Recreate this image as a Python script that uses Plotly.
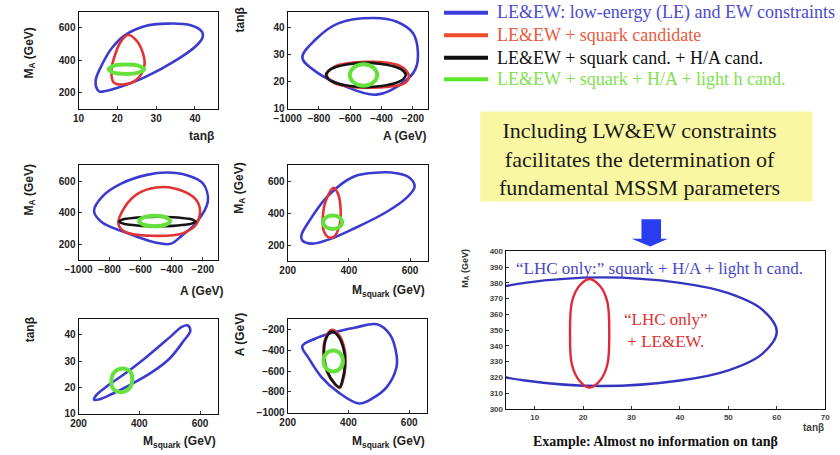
import plotly.graph_objects as go

W, H = 840, 455

# ---------------- data (contours) ----------------
# Panel 1: tanβ (x) vs M_A (y)
p1_blue_x = [15.5, 18.6, 27, 35.5, 40.6, 42, 41.8, 38.9, 33, 27, 22, 18.6, 16.1, 14.4, 14.8, 15.5]
p1_blue_y = [205, 219, 294, 405, 496, 545, 577, 617, 627, 611, 556, 476, 375, 274, 219, 205]
p1_red_x = [22.8, 25, 26.5, 27, 25, 21.5, 19, 18.5, 19.5, 21, 22.8]
p1_red_y = [556, 520, 450, 370, 280, 250, 265, 340, 440, 520, 556]
p1_green_x = [17.8, 19, 22.2, 25.5, 26.9, 25.5, 22.2, 19, 17.8]
p1_green_y = [344, 365, 373, 365, 344, 323, 315, 323, 344]

# Panel 2: A (x) vs tanβ (y)
p2_blue_x = [-906, -823, -677, -448, -302, -198, -167, -183, -246, -433, -646, -813, -906]
p2_blue_y = [29, 35.6, 41.7, 43.7, 42.3, 38, 30.7, 24.7, 20.4, 15.2, 18.6, 23.5, 29]
p2_red_x = [-750, -700, -600, -500, -400, -300, -240, -225, -260, -350, -500, -600, -700, -750]
p2_red_y = [22.5, 25.6, 27, 27.4, 27.3, 26.3, 24, 21.5, 19.2, 18.2, 17.8, 18.2, 19.5, 22.5]
p2_black_x = [-755, -740, -700, -600, -500, -400, -300, -260, -245, -260, -300, -400, -500, -600, -700, -740, -755]
p2_black_y = [22.5, 24, 25.3, 26.6, 27, 26.6, 25.3, 24, 22.5, 21, 19.7, 18.4, 18, 18.4, 19.7, 21, 22.5]
p2_green_x = [-603, -577, -515, -453, -427, -453, -515, -577, -603]
p2_green_y = [22.5, 25.3, 26.5, 25.3, 22.5, 19.7, 18.5, 19.7, 22.5]

# Panel 3: A (x) vs M_A (y)
p3_blue_x = [-900, -847, -722, -560, -428, -303, -199, -167, -240, -330, -407, -513, -701, -847, -900]
p3_blue_y = [410, 503, 586, 640, 655, 638, 586, 472, 339, 260, 204, 214, 277, 339, 410]
p3_red_x = [-743, -700, -620, -500, -387, -260, -219, -240, -330, -533, -700, -743]
p3_red_y = [330, 440, 520, 560, 556, 500, 431, 330, 270, 255, 280, 330]
p3_black_x = [-738, -722, -692, -592, -492, -392, -292, -262, -246, -262, -292, -392, -492, -592, -692, -722, -738]
p3_black_y = [345, 355.6, 362.5, 372.4, 375, 372.4, 362.5, 355.6, 345, 334.4, 327.5, 317.6, 315, 317.6, 327.5, 334.4, 345]
p3_green_x = [-610, -581, -510, -439, -410, -439, -510, -581, -610]
p3_green_y = [348, 371, 381, 371, 348, 325, 315, 325, 348]

# Panel 4: M_squark (x) vs M_A (y)
p4_blue_x = [247, 280, 340, 415, 520, 590, 615, 594, 540, 499, 415, 331, 268, 245, 247]
p4_blue_y = [232, 210, 240, 303, 405, 500, 568, 629, 655, 655, 629, 507, 344, 263, 232]
p4_red_x = [350, 365, 373, 370, 352, 335, 318, 315, 325, 350]
p4_red_y = [560, 520, 430, 330, 255, 248, 290, 380, 480, 560]
p4_green_x = [316, 325, 347, 369, 378, 369, 347, 325, 316]
p4_green_y = [344, 374, 386, 374, 344, 314, 302, 314, 344]

# Panel 5: M_squark (x) vs tanβ (y)
p5_blue_x = [251, 270, 310, 370, 438, 500, 545, 568, 560, 540, 500, 416, 350, 300, 258, 251]
p5_blue_y = [15.3, 15.5, 17.5, 21, 25.5, 31, 37.5, 41.5, 43.5, 43, 39, 30.8, 25, 21, 17, 15.3]
p5_green_x = [308, 318, 345, 370, 377, 367, 340, 314, 308]
p5_green_y = [22, 25.8, 27.2, 26, 23.2, 19.6, 18.2, 19.5, 22]

# Panel 6: M_squark (x) vs A (y)
p6_blue_x = [248, 290, 344, 420, 494, 537, 558, 558, 526, 480, 435, 366, 312, 270, 248]
p6_blue_y = [-361, -290, -236, -185, -151, -251, -440, -566, -754, -860, -911, -802, -660, -480, -361]
p6_red_x = [345, 368, 388, 390, 382, 372, 355, 328, 318, 323, 345]
p6_red_y = [-205, -250, -400, -550, -690, -760, -725, -600, -450, -300, -205]
p6_black_x = [344, 365, 385, 388, 380, 371, 355, 330, 320, 325, 344]
p6_black_y = [-220, -260, -400, -550, -690, -754, -720, -600, -450, -300, -220]
p6_green_x = [318, 327, 350, 373, 382, 373, 350, 327, 318]
p6_green_y = [-503, -432, -403, -432, -503, -574, -603, -574, -503]

# Panel 7: tanβ (x) vs M_A (y), LHC only vs LHC + LE&EW
p7_blue_x = [60, 57, 50, 40, 24, 8, -2, -9, -12, -9, -2, 8, 24, 40, 50, 57, 60]
p7_blue_y = [349, 363, 373.5, 380, 383.5, 380, 373.5, 363, 349, 335, 324.5, 318, 314.5, 318, 324.5, 335, 349]
p7_red_x = [21.3, 23.5, 25, 25.4, 25, 23.5, 21.3, 19.2, 17.7, 17.3, 17.7, 19.2, 21.3]
p7_red_y = [382.5, 378, 368, 348, 328, 318, 313.5, 318, 328, 348, 368, 378, 382.5]

# tick values
tk_tanb = [10, 20, 30, 40]
tk_ma = [200, 400, 600]
tk_a = [-1000, -800, -600, -400, -200]
tk_msq = [200, 400, 600]
tk_p7x = [10, 20, 30, 40, 50, 60, 70]
tk_p7y = [300, 310, 320, 330, 340, 350, 360, 370, 380, 390, 400]

legend_texts = [
    "LE&EW: low-energy (LE) and EW constraints",
    "LE&EW + squark candidate",
    "LE&EW + squark cand. + H/A cand.",
    "LE&EW + squark + H/A + light h cand.",
]

# ---------------- style ----------------
BLUE = "#3b3bd0"
RED = "#e23434"
BLACK = "#151515"
GREEN = "#66e03c"

fig = go.Figure()


def add(xs, ys, color, axis, width=2.6):
    fig.add_trace(go.Scatter(
        x=xs, y=ys, mode="lines", line=dict(color=color, width=width, shape="spline", smoothing=1.0),
        xaxis="x" + axis, yaxis="y" + axis, showlegend=False, hoverinfo="skip"))


add(p1_blue_x, p1_blue_y, BLUE, "")
add(p1_red_x, p1_red_y, RED, "")
add(p1_green_x, p1_green_y, GREEN, "", 4)

add(p2_blue_x, p2_blue_y, BLUE, "2")
add(p2_red_x, p2_red_y, RED, "2")
add(p2_black_x, p2_black_y, BLACK, "2")
add(p2_green_x, p2_green_y, GREEN, "2", 4)

add(p3_blue_x, p3_blue_y, BLUE, "3")
add(p3_red_x, p3_red_y, RED, "3")
add(p3_black_x, p3_black_y, BLACK, "3")
add(p3_green_x, p3_green_y, GREEN, "3", 4)

add(p4_blue_x, p4_blue_y, BLUE, "4")
add(p4_red_x, p4_red_y, RED, "4")
add(p4_green_x, p4_green_y, GREEN, "4", 4)

add(p5_blue_x, p5_blue_y, BLUE, "5")
add(p5_green_x, p5_green_y, GREEN, "5", 4)

add(p6_blue_x, p6_blue_y, BLUE, "6")
add(p6_red_x, p6_red_y, RED, "6")
add(p6_black_x, p6_black_y, BLACK, "6")
add(p6_green_x, p6_green_y, GREEN, "6", 4)

add(p7_blue_x, p7_blue_y, "#3434c0", "7", 2.4)
add(p7_red_x, p7_red_y, "#e02a3a", "7", 2.4)


def dx(a, b):
    return [a / W, b / W]


def dy(top, bottom):
    return [1 - bottom / H, 1 - top / H]


def ax(domain, rng, tickvals, anchor, small=False):
    return dict(domain=domain, range=rng, tickvals=tickvals, anchor=anchor,
                showline=True, mirror=True, linecolor="#111", linewidth=1,
                ticks="inside", ticklen=3, tickcolor="#333",
                showgrid=False, zeroline=False, fixedrange=True,
                tickfont=dict(family="Liberation Sans", size=8 if small else 10,
                              color="#444" if small else "#222", weight="bold"))


layout = dict(
    width=W, height=H, autosize=False,
    margin=dict(l=0, r=0, t=0, b=0),
    paper_bgcolor="white", plot_bgcolor="white",
    xaxis=ax(dx(66, 209), [10, 46], tk_tanb, "y"),
    yaxis=ax(dy(8, 107), [100, 700], tk_ma, "x"),
    xaxis2=ax(dx(280, 424), [-1000, -100], tk_a, "y2"),
    yaxis2=ax(dy(8, 107), [10, 46], tk_tanb, "x2"),
    xaxis3=ax(dx(66, 209), [-1000, -100], tk_a, "y3"),
    yaxis3=ax(dy(165, 262), [100, 700], tk_ma, "x3"),
    xaxis4=ax(dx(280, 424), [200, 660], tk_msq, "y4"),
    yaxis4=ax(dy(165, 263), [100, 700], tk_ma, "x4"),
    xaxis5=ax(dx(66, 209), [200, 660], tk_msq, "y5"),
    yaxis5=ax(dy(322, 419), [10, 46], tk_tanb, "x5"),
    xaxis6=ax(dx(280, 423), [200, 660], tk_msq, "y6"),
    yaxis6=ax(dy(322, 418), [-1000, -100], tk_a, "x6"),
    xaxis7=ax(dx(503, 830), [4, 70], tk_p7x, "y7", small=True),
    yaxis7=ax(dy(253, 414), [300, 400], tk_p7y, "x7", small=True),
)
fig.update_layout(**layout)


def note(x, y, text, font, **kw):
    d = dict(x=x / W, y=1 - y / H, xref="paper", yref="paper", showarrow=False,
             xanchor="center", yanchor="middle", text=text, font=font)
    d.update(kw)
    return d


ann = []
TF = dict(family="Liberation Sans", size=12, color="#222", weight="bold")
# axis titles of the six small panels
ann.append(note(192, 135, "tanβ", TF))
ann.append(note(16, 50, "M<sub>A</sub> (GeV)", TF, textangle=-90))
ann.append(note(400, 135, "A (GeV)", TF))
ann.append(note(231, 16, "tanβ", TF, textangle=-90))
ann.append(note(192, 293, "A (GeV)", TF))
ann.append(note(16, 190, "M<sub>A</sub> (GeV)", TF, textangle=-90))
ann.append(note(383, 293, "M<sub>squark</sub> (GeV)", TF))
ann.append(note(231, 188, "M<sub>A</sub> (GeV)", TF, textangle=-90))
ann.append(note(169, 448, "M<sub>squark</sub> (GeV)", TF))
ann.append(note(16, 333, "tanβ", TF, textangle=-90))
ann.append(note(383, 448, "M<sub>squark</sub> (GeV)", TF))
ann.append(note(231, 338, "A (GeV)", TF, textangle=-90))

# big panel titles and texts
ann.append(note(818, 433, "tanβ", dict(family="Liberation Sans", size=10, color="#444", weight="bold")))
ann.append(note(461, 270, "M<sub>A</sub> (GeV)", dict(family="Liberation Sans", size=9, color="#333", weight="bold"),
                textangle=-90))
ann.append(note(512, 270, "\u201cLHC only:\u201d squark + H/A + light h cand.",
                dict(family="Liberation Serif", size=17, color="#4848c8"), xanchor="left"))
ann.append(note(667, 334, "\u201cLHC only\u201d<br>+ LE&EW.",
                dict(family="Liberation Serif", size=17, color="#e03030")))
ann.append(note(656, 447, "Example: Almost no information on tanβ",
                dict(family="Liberation Serif", size=14, color="#111", weight="bold")))

# yellow box text
ann.append(note(640, 158, "Including LW&EW constraints<br>facilitates the determination of<br>fundamental MSSM parameters",
                dict(family="Liberation Serif", size=22, color="#1a1a1a")))

# legend
leg_colors_line = ["#3c3cdc", "#f04a28", "#111111", "#5ce62a"]
leg_colors_text = ["#4a4ad2", "#ea5a3c", "#111111", "#7ee24a"]
leg_y = [9, 32, 55, 77]
shapes = [dict(type="rect", xref="paper", yref="paper", x0=477 / W, x1=817 / W,
               y0=1 - 202 / H, y1=1 - 110 / H, fillcolor="#f9f7a2", line=dict(width=0), layer="below")]
for t, cl, ct, yy in zip(legend_texts, leg_colors_line, leg_colors_text, leg_y):
    ann.append(note(492, yy, t, dict(family="Liberation Serif", size=18, color=ct), xanchor="left"))
    shapes.append(dict(type="line", xref="paper", yref="paper", x0=440 / W, x1=485 / W,
                       y0=1 - yy / H, y1=1 - yy / H, line=dict(color=cl, width=4)))

# arrow
pts = [(642, 220), (662, 220), (662, 240), (669, 240), (651, 248), (632, 240), (642, 240)]
path = "M " + " L ".join(f"{x / W:.5f},{1 - y / H:.5f}" for x, y in pts) + " Z"
shapes.append(dict(type="path", xref="paper", yref="paper", path=path, fillcolor="#2a3cf0", line=dict(width=0)))

fig.update_layout(annotations=ann, shapes=shapes)
fig.write_html("out.html")
